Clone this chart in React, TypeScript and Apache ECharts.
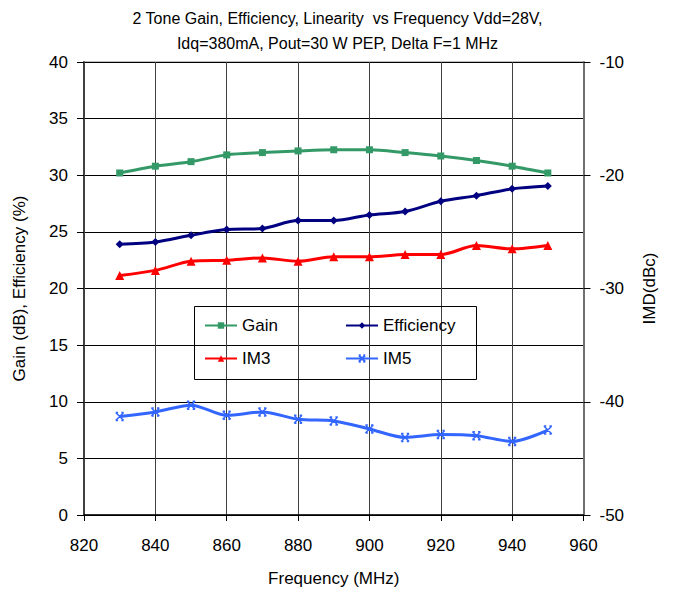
import React, { useEffect, useRef } from "react";
import * as echarts from "echarts";

const freqs = [830, 840, 850, 860, 870, 880, 890, 900, 910, 920, 930, 940, 950];
const gain = [30.2, 30.8, 31.2, 31.8, 32.0, 32.15, 32.25, 32.25, 32.0, 31.7, 31.3, 30.8, 30.2];
const efficiency = [23.9, 24.1, 24.7, 25.2, 25.3, 26.0, 26.0, 26.5, 26.8, 27.7, 28.2, 28.8, 29.05];
const im3 = [-28.85, -28.4, -27.6, -27.5, -27.3, -27.6, -27.2, -27.2, -27.0, -27.0, -26.2, -26.5, -26.2];
const im5 = [-41.3, -40.9, -40.3, -41.2, -40.9, -41.55, -41.7, -42.4, -43.15, -42.9, -43.0, -43.5, -42.5];

const FONT = "Liberation Sans, Arial, sans-serif";
const xSym = "path://M0,0L10,10M10,0L0,10M0,0L3,0M7,0L10,0M0,10L3,10M7,10L10,10";

export default function App() {
  const ref = useRef<HTMLDivElement>(null);
  useEffect(() => {
    const chart = echarts.init(ref.current!, null, { renderer: "svg" });
    const pair = (ys: number[]) => freqs.map((f, i) => [f, ys[i]]);
    chart.setOption({
      animation: false,
      backgroundColor: "#fff",
      textStyle: { fontFamily: FONT },
      title: {
        text: "2 Tone Gain, Efficiency, Linearity  vs Frequency Vdd=28V,\nIdq=380mA, Pout=30 W PEP, Delta F=1 MHz",
        left: "center",
        top: 1,
        textStyle: { fontFamily: FONT, fontSize: 16, fontWeight: "normal", color: "#000", lineHeight: 25 },
      },
      grid: { left: 84, right: 91.5, top: 62, bottom: 77, show: true, borderColor: "#808080", borderWidth: 1 },
      legend: [
        {
          data: ["Gain", "IM3"], orient: "vertical", left: 199, top: 312, itemGap: 16,
          itemWidth: 32, itemHeight: 8,
          textStyle: { fontFamily: FONT, fontSize: 17, color: "#000" },
        },
        {
          data: ["Efficiency", "IM5"], orient: "vertical", left: 340, top: 312, itemGap: 16,
          itemWidth: 32, itemHeight: 8,
          textStyle: { fontFamily: FONT, fontSize: 17, color: "#000" },
        },
      ],
      graphic: [
        {
          type: "rect", shape: { x: 194.5, y: 306.5, width: 282, height: 73 },
          style: { fill: "none", stroke: "#000", lineWidth: 1 }, z: 10,
        },
      ],
      xAxis: {
        type: "value", min: 820, max: 960, interval: 20,
        name: "Frequency (MHz)", nameLocation: "middle", nameGap: 55,
        nameTextStyle: { fontFamily: FONT, fontSize: 17, color: "#000" },
        axisLine: { lineStyle: { color: "#000", width: 1.5 } },
        axisTick: { show: true, length: 6, lineStyle: { color: "#000" } },
        axisLabel: { fontFamily: FONT, fontSize: 17, color: "#000", margin: 22 },
        splitLine: { show: true, lineStyle: { color: "#404040", width: 1 } },
      },
      yAxis: [
        {
          type: "value", min: 0, max: 40, interval: 5, position: "left",
          name: "Gain (dB), Efficiency (%)", nameLocation: "middle", nameGap: 56,
          nameTextStyle: { fontFamily: FONT, fontSize: 17, color: "#000" },
          axisLine: { show: true, lineStyle: { color: "#404040", width: 2 } },
          axisTick: { show: true, length: 7, lineStyle: { color: "#000" } },
          axisLabel: { fontFamily: FONT, fontSize: 17, color: "#000", margin: 16 },
          splitLine: { show: true, lineStyle: { color: "#000", width: 1 } },
        },
        {
          type: "value", min: -50, max: -10, interval: 10, position: "right",
          name: "IMD(dBc)", nameLocation: "middle", nameGap: 57, nameRotate: 90,
          nameTextStyle: { fontFamily: FONT, fontSize: 17, color: "#000" },
          axisLine: { show: true, lineStyle: { color: "#707070", width: 2 } },
          axisTick: { show: true, length: 7, lineStyle: { color: "#000" } },
          axisLabel: { fontFamily: FONT, fontSize: 17, color: "#000", margin: 16 },
          splitLine: { show: false },
        },
      ],
      series: [
        {
          name: "Gain", type: "line", yAxisIndex: 0, data: pair(gain), smooth: 0.3,
          symbol: "rect", symbolSize: 7,
          lineStyle: { color: "#339966", width: 3 }, itemStyle: { color: "#339966" },
        },
        {
          name: "Efficiency", type: "line", yAxisIndex: 0, data: pair(efficiency), smooth: 0.3,
          symbol: "diamond", symbolSize: 8,
          lineStyle: { color: "#000080", width: 3 }, itemStyle: { color: "#000080" },
        },
        {
          name: "IM3", type: "line", yAxisIndex: 1, data: pair(im3), smooth: 0.3,
          symbol: "triangle", symbolSize: 9,
          lineStyle: { color: "#ff0000", width: 3 }, itemStyle: { color: "#ff0000" },
        },
        {
          name: "IM5", type: "line", yAxisIndex: 1, data: pair(im5), smooth: 0.3,
          symbol: xSym, symbolSize: 8,
          lineStyle: { color: "#3366ff", width: 3 },
          itemStyle: { color: "#3366ff", borderColor: "#3366ff", borderWidth: 1.5 },
        },
      ],
    });
    return () => chart.dispose();
  }, []);
  return <div ref={ref} style={{ position: "absolute", left: 0, top: 0, width: 675, height: 592 }} />;
}
